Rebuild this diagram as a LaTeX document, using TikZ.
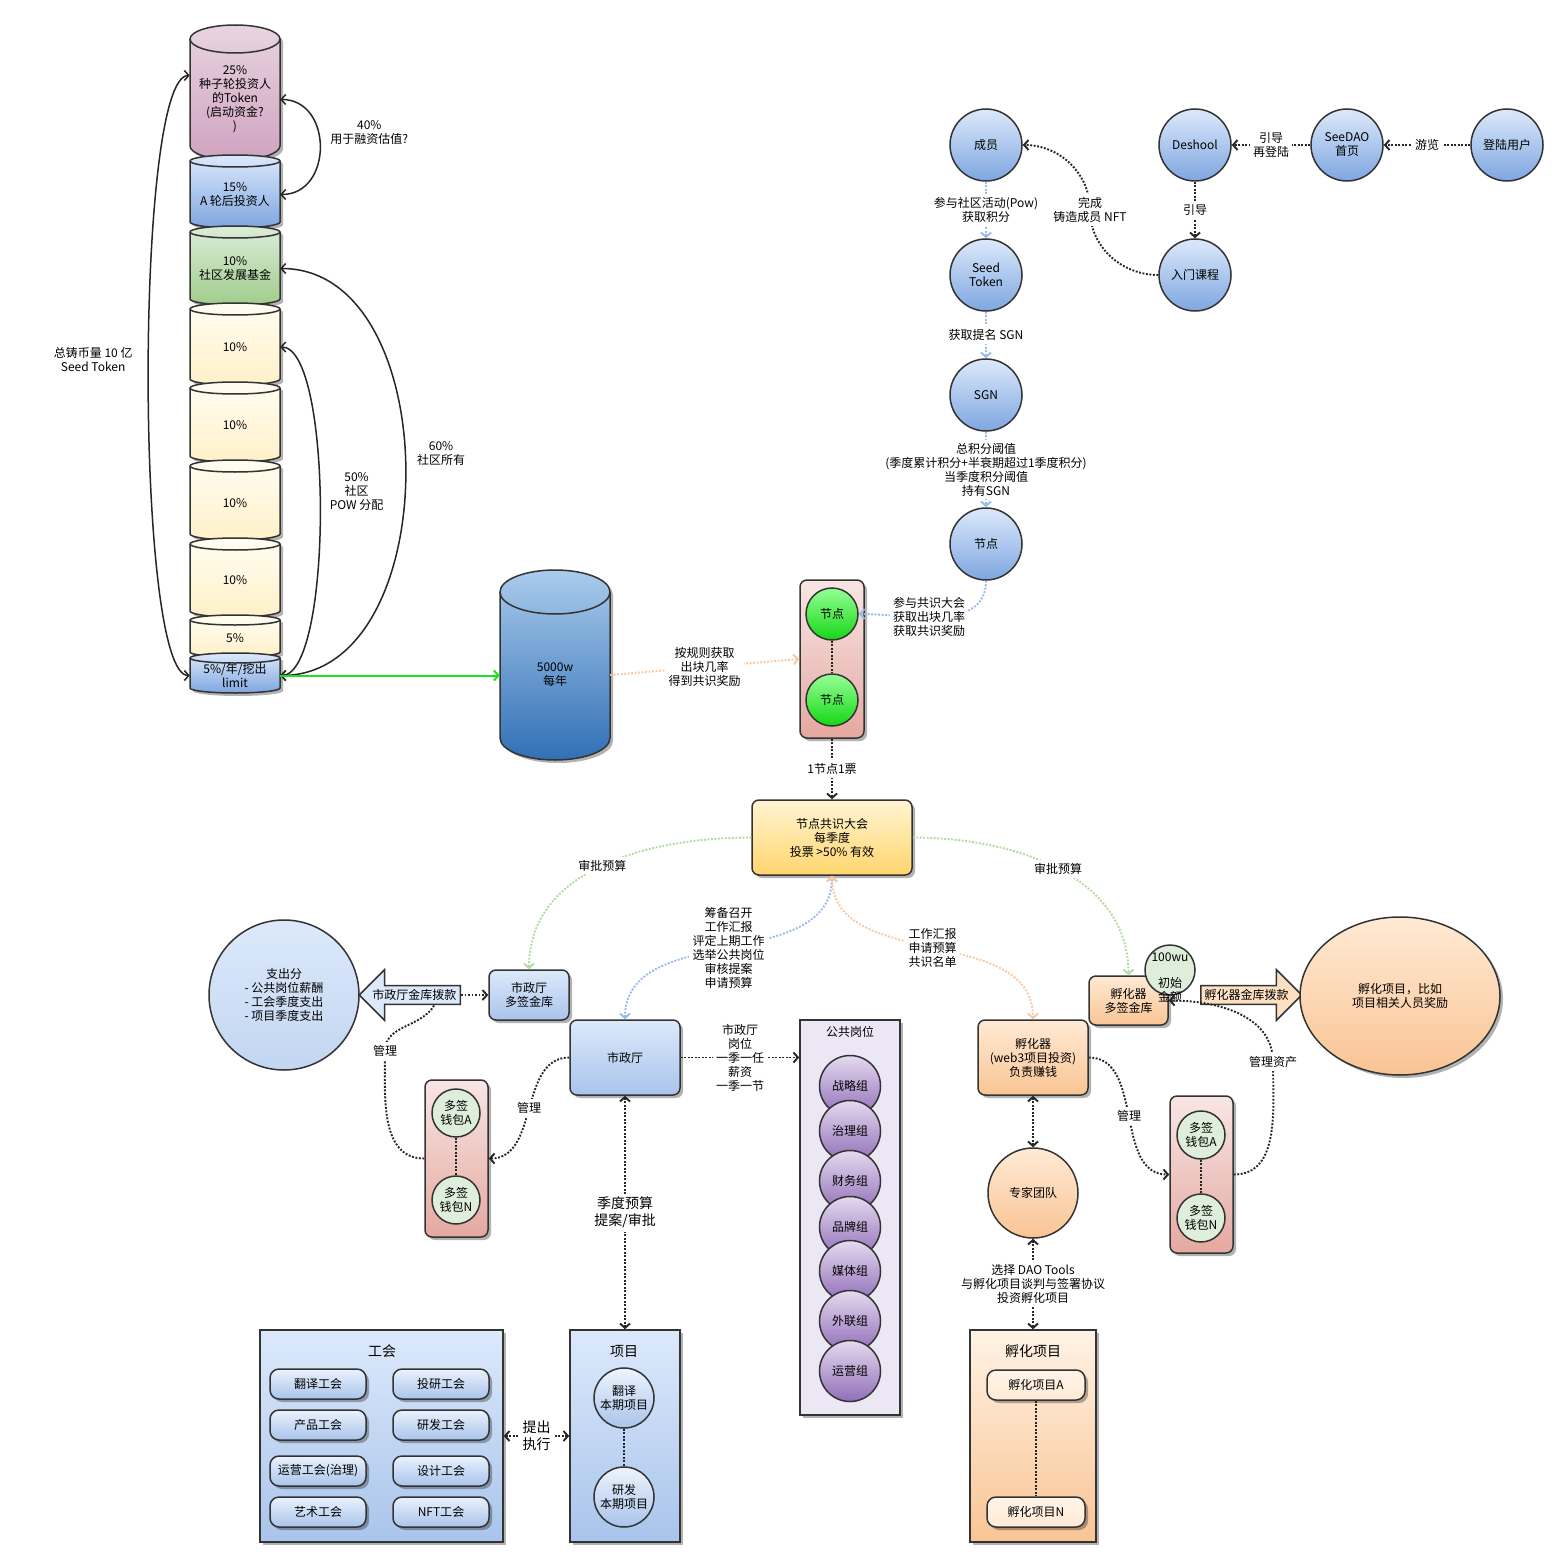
\documentclass[tikz,border=0pt]{standalone}
\usepackage{fontspec}
\setmainfont{Noto Sans CJK SC}
\usepackage{tikz}
\usetikzlibrary{arrows.meta,shapes,positioning,shadows,calc}

\definecolor{pinktop}{RGB}{232,212,225}
\definecolor{pinkbot}{RGB}{208,163,192}
\definecolor{skytop}{RGB}{220,233,251}
\definecolor{skymid}{RGB}{169,196,235}
\definecolor{skybot}{RGB}{126,166,224}
\definecolor{leaftop}{RGB}{220,236,216}
\definecolor{leafbot}{RGB}{160,205,140}
\definecolor{creamtop}{RGB}{255,253,242}
\definecolor{creambot}{RGB}{255,240,200}
\definecolor{pooltop}{RGB}{170,203,236}
\definecolor{poolmid}{RGB}{62,130,200}
\definecolor{poolbot}{RGB}{48,112,182}
\definecolor{rosetop}{RGB}{248,230,228}
\definecolor{rosebot}{RGB}{228,168,160}
\definecolor{limetop}{RGB}{150,255,150}
\definecolor{limebot}{RGB}{20,215,20}
\definecolor{goldtop}{RGB}{255,244,210}
\definecolor{goldbot}{RGB}{255,214,110}
\definecolor{peachtop}{RGB}{255,234,212}
\definecolor{peachbot}{RGB}{249,196,148}
\definecolor{lilac}{RGB}{236,231,244}
\definecolor{plumtop}{RGB}{228,218,238}
\definecolor{plumbot}{RGB}{145,110,185}
\definecolor{mint}{RGB}{222,238,218}
\definecolor{dotblue}{RGB}{150,186,238}
\definecolor{dotgreen}{RGB}{178,218,158}
\definecolor{dotorange}{RGB}{250,200,160}
\definecolor{arrowgreen}{RGB}{30,225,30}

\tikzset{
  outl/.style={draw=black!80, line width=1.5pt},
  shd/.style={drop shadow={shadow xshift=3pt, shadow yshift=-3pt, opacity=0.3, fill=black}},
  dots/.style={line width=1.9pt, dash pattern=on 1.9pt off 1.6pt},
  blk/.style={draw=black!85},
  onehead/.style={-{Straight Barb[length=4.5pt,width=10pt]}},
  twohead/.style={{Straight Barb[length=4.5pt,width=10pt]}-{Straight Barb[length=4.5pt,width=10pt]}},
  bluedots/.style={dots, draw=dotblue},
  greendots/.style={dots, draw=dotgreen},
  orangedots/.style={dots, draw=dotorange},
  big/.style={font=\fontsize{14}{17}\selectfont},
  blueball/.style={circle, outl, minimum size=72pt, inner sep=0pt, top color=skytop, bottom color=skybot},
  limeball/.style={circle, outl, minimum size=52pt, inner sep=0pt, top color=limetop, bottom color=limebot},
  mintball/.style={circle, outl, minimum size=48pt, inner sep=0pt, fill=mint},
  plumball/.style={circle, outl, minimum size=61pt, inner sep=0pt, top color=plumtop, bottom color=plumbot},
  bluebox/.style={rectangle, rounded corners=7pt, outl, top color=skytop, bottom color=skymid, shd},
  peachbox/.style={rectangle, rounded corners=7pt, outl, top color=peachtop, bottom color=peachbot, shd},
  goldbox/.style={rectangle, rounded corners=7pt, outl, top color=goldtop, bottom color=goldbot, shd},
  rosebox/.style={rectangle, rounded corners=7pt, outl, top color=rosetop, bottom color=rosebot, shd},
  skypanel/.style={rectangle, outl, top color=skytop, bottom color=skymid, shd},
  peachpanel/.style={rectangle, outl, top color=peachtop!60!white, bottom color=peachbot, shd},
  pill/.style={rectangle, rounded corners=9pt, outl, minimum width=96pt, minimum height=30pt, shd}
}

\begin{document}
\begin{tikzpicture}[x=1pt, y=1pt, font=\fontsize{12}{14}\selectfont, every node/.append style={align=center}]
\fill[white] (0,0) rectangle (1563,-1562);
\useasboundingbox (0,0) rectangle (1563,-1562);

% token stack
\foreach \nm/\yt/\yb/\ry/\ct/\cb/\txt in {
    seedround/25/160/14/pinktop/pinkbot/{25\%\\种子轮投资人\\的Token\\(启动资金?\\)},
    roundA/155/228/6/skytop/skybot/{15\%\\A 轮后投资人},
    devfund/226/305/6/leaftop/leafbot/{10\%\\社区发展基金},
    powA/303/385/6/creamtop/creambot/{10\%},
    powB/382/462/6/creamtop/creambot/{10\%},
    powC/460/540/6/creamtop/creambot/{10\%},
    powD/538/617/6/creamtop/creambot/{10\%},
    reserve/615/657/5/creamtop/creambot/{5\%},
    limit/653/693/5/skytop/skybot/{5\%/年/挖出\\limit}} {
  \pgfmathsetmacro{\hh}{\yb-\yt-\ry}
  \pgfmathsetmacro{\cy}{-(\yt+\yb+\ry)/2}
  \path[outl, top color=\ct, bottom color=\cb, shd] (190,-\yt-\ry) -- (190,-\yb+\ry)
    arc[start angle=180, end angle=360, x radius=45, y radius=\ry] -- (280,-\yt-\ry)
    arc[start angle=0, end angle=180, x radius=45, y radius=\ry] -- cycle;
  \draw[outl] (190,-\yt-\ry) arc[start angle=180, end angle=360, x radius=45, y radius=\ry];
  \node[minimum width=90pt, minimum height=\hh pt, inner sep=0pt] (\nm) at (235,\cy) {\txt};
}

\draw[blk, line width=1.5pt, twohead] ([yshift=24pt]seedround.west) to[out=180, in=180, distance=55pt]
  node[pos=0.482, left=12pt] {总铸币量 10 亿\\Seed Token} (limit.west);
\draw[blk, line width=1.5pt, twohead] (seedround.east) to[out=0, in=0, distance=53pt]
  node[pos=0.4, right=8pt] {40\%\\用于融资估值?} (roundA.east);
\draw[blk, line width=1.5pt, twohead] (devfund.east) to[out=0, in=0, distance=167pt]
  node[pos=0.47, right=8pt] {60\%\\社区所有} (limit.east);
\draw[blk, line width=1.5pt, twohead] (powA.east) to[out=0, in=0, distance=53pt]
  node[pos=0.46, right=6pt] {50\%\\社区\\POW 分配} (limit.east);

% yearly pool
\path[outl, top color=pooltop, middle color=poolmid, bottom color=poolbot, shd] (500,-592) -- (500,-738)
  arc[start angle=180, end angle=360, x radius=55, y radius=22] -- (610,-592)
  arc[start angle=0, end angle=180, x radius=55, y radius=22] -- cycle;
\draw[outl] (500,-592) arc[start angle=180, end angle=360, x radius=55, y radius=22];
\node[minimum width=110pt, minimum height=146pt] (pool) at (555,-675) {5000w\\每年};
\draw[arrowgreen, line width=2pt, onehead] (limit.east) -- (limit.east -| pool.west);

% member path
\node[blueball] (member) at (986,-145) {成员};
\node[blueball] (seedtok) at (986,-275) {Seed\\Token};
\node[blueball] (sgn) at (986,-395) {SGN};
\node[blueball] (nodeball) at (986,-544) {节点};
\node[blueball] (deshool) at (1195,-145) {Deshool};
\node[blueball] (seedhome) at (1347,-145) {SeeDAO\\首页};
\node[blueball] (login) at (1507,-145) {登陆用户};
\node[blueball] (course) at (1195,-275) {入门课程};

\draw[blk, dots, onehead] (login) -- node[fill=white] {游览} (seedhome);
\draw[blk, dots, onehead] (seedhome) -- node[fill=white] {引导\\再登陆} (deshool);
\draw[blk, dots, onehead] (deshool) -- node[fill=white] {引导} (course);
\draw[blk, dots, onehead] (course.west) to[out=180, in=-90] node[pos=1, fill=white] {完成\\铸造成员 NFT} (1090,-210)
  to[out=90, in=0] (member.east);
\draw[bluedots, onehead] (member) -- node[fill=white] {参与社区活动(Pow)\\获取积分} (seedtok);
\draw[bluedots, onehead] (seedtok) -- node[fill=white] {获取提名 SGN} (sgn);
\draw[bluedots, onehead] (sgn) -- node[fill=white] {总积分阈值\\(季度累计积分+半衰期超过1季度积分)\\当季度积分阈值\\持有SGN} (nodeball);

% nodes and meeting
\node[rosebox, minimum width=64pt, minimum height=158pt] (nodepool) at (832,-659) {};
\node[limeball] (gnodeA) at (832,-614) {节点};
\node[limeball] (gnodeB) at (832,-700) {节点};
\draw[blk, dots] (gnodeA) -- (gnodeB);
\draw[bluedots, onehead] (nodeball.south) to[out=-90, in=0]
  node[pos=0.58, fill=white] {参与共识大会\\获取出块几率\\获取共识奖励} (gnodeA.east);
\draw[orangedots, onehead] (pool.east) -- node[fill=white] {按规则获取\\出块几率\\得到共识奖励} (nodepool.west);

\node[goldbox, minimum width=160pt, minimum height=75pt] (meeting) at (832,-837.5) {节点共识大会\\每季度\\投票 >50\% 有效};
\draw[blk, dots, onehead] (nodepool.south) -- node[fill=white] {1节点1票} (meeting.north);

% city hall side
\node[bluebox, minimum width=80pt, minimum height=50pt] (hallvault) at (529,-995) {市政厅\\多签金库};
\node[bluebox, minimum width=110pt, minimum height=75pt] (hall) at (625,-1057.5) {市政厅};
\node[circle, outl, minimum size=150pt, top color=skytop, bottom color=skymid!70!white] (spend) at (284,-995)
  {支出分\\- 公共岗位薪酬\\- 工会季度支出\\ - 项目季度支出};
\node[single arrow, shape border rotate=180, outl, fill=skytop, single arrow head extend=16pt,
  inner ysep=3pt, inner xsep=1pt, minimum height=101pt, anchor=tail] (hallpay) at (461,-995) {市政厅金库拨款};
\draw[blk, dots, onehead] (hallpay.tail) -- (hallvault.west);

\node[rosebox, minimum width=63pt, minimum height=157pt] (hallwallets) at (456.5,-1158.5) {};
\node[mintball] (hallwalletA) at (456,-1113) {多签\\钱包A};
\node[mintball] (hallwalletN) at (456,-1200) {多签\\钱包N};
\draw[blk, dots] (hallwalletA) -- (hallwalletN);
\draw[blk, dots, onehead] (hall.west) to[out=180, in=0] node[fill=white] {管理} (hallwallets.east);
\draw[blk, dots] (hallwallets.west) to[out=180, in=-90] node[pos=1, fill=white] {管理} (385,-1051)
  to[out=90, in=-120] ([xshift=20pt, yshift=-10pt]hallpay.center);

\draw[greendots, onehead] (meeting.west) to[out=180, in=90] node[fill=white] {审批预算} (hallvault.north);
\draw[bluedots, twohead] (hall.north) to[out=90, in=-90]
  node[fill=white] {筹备召开\\工作汇报\\评定上期工作\\选举公共岗位\\审核提案\\申请预算} (meeting.south);

% public posts
\node[rectangle, outl, fill=lilac, minimum width=100pt, minimum height=395pt, shd] (posts) at (850,-1217.5) {};
\node (poststitle) at (850,-1032) {公共岗位};
\foreach \y/\g [count=\i] in {1086/战略组, 1131/治理组, 1181/财务组, 1227/品牌组, 1271/媒体组, 1321/外联组, 1371/运营组}
  \node[plumball] (team\i) at (850,-\y) {\g};
\draw[blk, dots, onehead] (hall.east) -- node[fill=white] {市政厅\\岗位\\一季一任\\薪资\\一季一节} (hall.east -| posts.west);

% guilds and projects
\node[skypanel, minimum width=243pt, minimum height=212pt] (guilds) at (381.5,-1436) {};
\node[big] (guildtitle) at (382,-1351) {工会};
\foreach \x/\y/\g [count=\i] in {318/1384/翻译工会, 441/1384/投研工会, 318/1425/产品工会, 441/1425/研发工会,
    318/1471/运营工会(治理), 441/1471/设计工会, 318/1512/艺术工会, 441/1512/NFT工会}
  \node[pill, top color=skytop!60!white, bottom color=skymid] (guild\i) at (\x,-\y) {\g};

\node[skypanel, minimum width=110pt, minimum height=212pt] (projects) at (625,-1436) {};
\node[big] (projtitle) at (624,-1351) {项目};
\node[circle, outl, minimum size=60pt, inner sep=0pt, top color=skytop!50!white, bottom color=skymid] (projA) at (624,-1398) {翻译\\本期项目};
\node[circle, outl, minimum size=60pt, inner sep=0pt, top color=skytop!50!white, bottom color=skymid] (projB) at (624,-1497) {研发\\本期项目};
\draw[blk, dots] (projA) -- (projB);
\draw[blk, dots, twohead] (hall.south) -- node[big, fill=white] {季度预算\\提案/审批} (projects.north);
\draw[blk, dots, twohead] (guilds.east) -- node[big, fill=white] {提出\\执行} (projects.west);

% incubator side
\node[peachbox, minimum width=79pt, minimum height=49pt] (incvault) at (1128.5,-1000.5) {孵化器\\多签金库};
\node[circle, outl, minimum size=50pt, inner sep=0pt, fill=mint,
  label={[yshift=-8pt]center:{100wu\\[12pt]初始\\金额}}] (seedfund) at (1170,-970) {};
\node[single arrow, outl, fill=peachtop!70!peachbot, single arrow head extend=16pt,
  inner ysep=3pt, inner xsep=1pt, minimum height=101pt, anchor=tail] (incpay) at (1200,-995) {孵化器金库拨款};
\node[ellipse, outl, minimum width=200pt, minimum height=158pt, top color=peachtop, bottom color=peachbot, shd]
  (hatchreward) at (1400,-996) {孵化项目，比如\\项目相关人员奖励};
\node[peachbox, minimum width=110pt, minimum height=75pt] (incubator) at (1033,-1057.5) {孵化器\\(web3项目投资)\\负责赚钱};

\node[rosebox, minimum width=63pt, minimum height=157pt] (incwallets) at (1201.5,-1174.5) {};
\node[mintball] (incwalletA) at (1201,-1135) {多签\\钱包A};
\node[mintball] (incwalletN) at (1201,-1218) {多签\\钱包N};
\draw[blk, dots] (incwalletA) -- (incwalletN);
\draw[blk, dots, onehead] (incubator.east) to[out=0, in=180] node[fill=white] {管理} (incwallets.west);
\draw[blk, dots, onehead] (incwallets.east) to[out=0, in=-90] node[pos=1, fill=white] {管理资产} (1273,-1062)
  to[out=90, in=0] (incvault.east);

\draw[greendots, onehead] (meeting.east) to[out=0, in=90] node[fill=white] {审批预算} (incvault.north);
\draw[orangedots, twohead] (meeting.south) to[out=-90, in=90]
  node[fill=white] {工作汇报\\申请预算\\共识名单} (incubator.north);

\node[circle, outl, minimum size=90pt, top color=peachtop, bottom color=peachbot] (experts) at (1033,-1193) {专家团队};
\draw[blk, dots, twohead] (incubator.south) -- (experts.north);

\node[peachpanel, minimum width=126pt, minimum height=212pt] (hatchery) at (1033,-1436) {};
\node[big] (hatchtitle) at (1033,-1351) {孵化项目};
\node[pill, minimum width=98pt, top color=peachtop!50!white, bottom color=peachtop] (hatchA) at (1036,-1385) {孵化项目A};
\node[pill, minimum width=98pt, top color=peachtop!50!white, bottom color=peachtop] (hatchN) at (1036,-1512) {孵化项目N};
\draw[blk, dots] (hatchA) -- (hatchN);
\draw[blk, dots, twohead] (experts.south) -- node[fill=white] {选择 DAO Tools\\与孵化项目谈判与签署协议\\投资孵化项目} (hatchery.north);
\end{tikzpicture}
\end{document}
